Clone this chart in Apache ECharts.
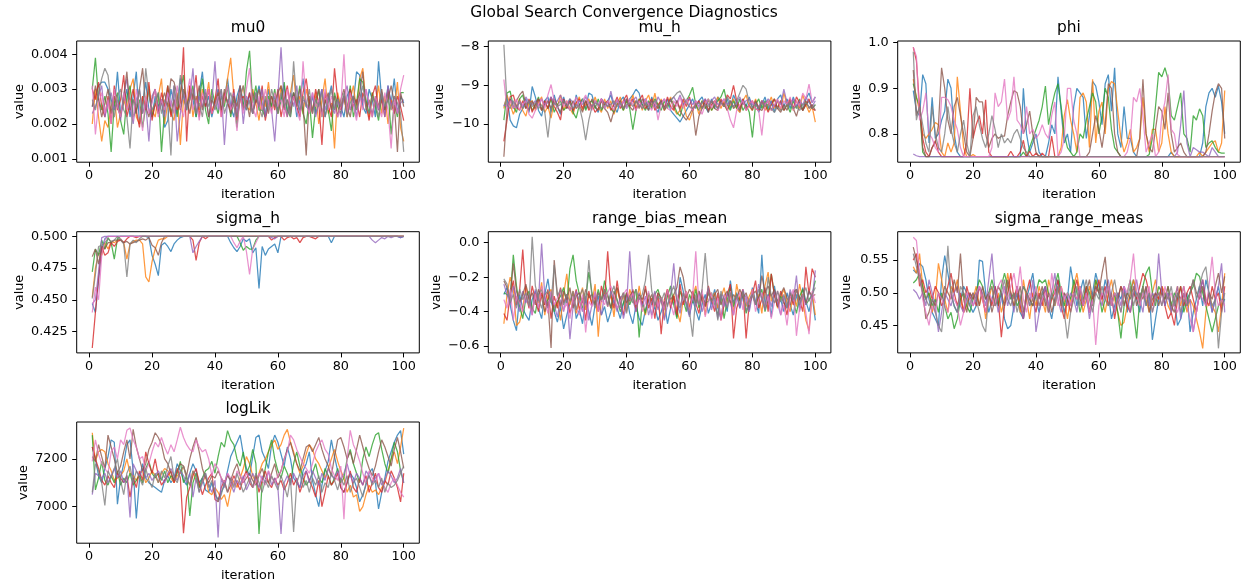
<!DOCTYPE html>
<html>
<head>
<meta charset="utf-8">
<title>Global Search Convergence Diagnostics</title>
<script src="https://cdn.jsdelivr.net/npm/echarts@6/dist/echarts.min.js"></script>
<style>
html, body { margin: 0; padding: 0; background: #fff; }
#chart { width: 1244px; height: 588px; }
</style>
</head>
<body>
<div id="chart"></div>
<script>
// iteration index of every chain (1..100)
var iterations = [];
for (var i = 1; i <= 100; i++) iterations.push(i);

var chainColors = ['#1f77b4', '#ff7f0e', '#2ca02c', '#d62728', '#9467bd', '#8c564b', '#e377c2', '#7f7f7f'];
var xTicks = [0, 20, 40, 60, 80, 100];

// ---------- mu0 ----------
var mu0_ticks = [0.001, 0.002, 0.003, 0.004];
var mu0_c1 = [.0025,.0028,.0031,.0032,.0032,.003,.0027,.0024,.0035,.0023,
.0026,.003,.0022,.0028,.0035,.002,.0026,.0032,.0024,.0022,
.0028,.0025,.0027,.0019,.0021,.003,.0026,.0023,.0033,.0028,
.0024,.003,.0027,.0022,.0029,.0035,.0025,.0028,.0022,.0026,
.003,.0024,.0027,.0033,.0025,.0022,.0028,.0031,.0026,.0024,
.0029,.0023,.0027,.0031,.0026,.0022,.003,.0025,.0028,.0024,
.0027,.0031,.0023,.0026,.0029,.0022,.0027,.0033,.0025,.0024,
.0028,.0023,.0026,.003,.0022,.0027,.0031,.0024,.0028,.0025,
.0022,.0028,.003,.0026,.0035,.0034,.0025,.0023,.003,.0027,
.0022,.0038,.0027,.0024,.0031,.0026,.0033,.0023,.0028,.0026];
var mu0_c2 = [.002,.003,.0022,.0015,.0021,.0019,.0025,.0028,.0019,.0023,
.0027,.0024,.003,.0033,.0022,.002,.0028,.0025,.0031,.0024,
.0022,.0028,.0033,.002,.0026,.0023,.0021,.0029,.0014,.0027,
.0025,.0031,.0022,.0028,.0024,.003,.0026,.0032,.0023,.0027,
.0029,.0024,.0026,.0033,.0039,.0028,.0022,.0027,.0031,.0025,
.0024,.003,.0026,.0021,.0028,.0025,.0032,.0024,.0027,.0023,
.0031,.0026,.0022,.0029,.0034,.0025,.0028,.0023,.003,.0026,
.0024,.0029,.002,.0027,.0033,.0023,.0026,.0013,.0029,.0025,
.0028,.0022,.0027,.0031,.0024,.0033,.0036,.0026,.0022,.0029,
.0025,.0031,.0023,.0028,.002,.0027,.0024,.0032,.0019,.0015];
var mu0_c3 = [.003,.0039,.0027,.0024,.0028,.0023,.0012,.0026,.0029,.0021,
.0017,.0028,.0031,.0022,.0024,.0027,.0019,.0025,.003,.0022,
.0026,.0029,.0012,.0024,.0031,.0023,.0027,.0022,.0029,.0034,
.0025,.0028,.0031,.0022,.0027,.0033,.0024,.002,.003,.0026,
.0023,.0028,.0025,.0031,.0022,.0027,.0019,.0029,.0024,.0035,
.0041,.0026,.0031,.0024,.0024,.0022,.0028,.0025,.003,.0023,
.0027,.0032,.0024,.0022,.0029,.0026,.0031,.0023,.002,.0027,
.0016,.0025,.003,.0022,.0027,.0024,.0018,.0029,.0025,.0023,
.0028,.0024,.0031,.0022,.0026,.0033,.0032,.0027,.0023,.0029,
.0025,.0021,.0028,.0024,.003,.0017,.0026,.0022,.0029,.0029];
var mu0_c4 = [.003,.0027,.0032,.0025,.0022,.0028,.002,.0031,.0024,.0027,
.0034,.0022,.0026,.003,.0024,.0019,.0028,.0024,.0032,.0021,
.0026,.0023,.0029,.0025,.0031,.0022,.0027,.0024,.0026,.0042,
.0015,.0031,.0027,.0034,.0022,.0028,.0025,.003,.0023,.0027,
.0033,.0022,.0029,.0026,.0024,.003,.0021,.0027,.0028,.0025,
.0029,.0023,.0027,.0025,.0031,.0021,.0026,.0028,.0024,.003,
.0022,.0027,.0031,.0024,.0028,.0025,.0022,.0029,.0033,.0026,
.0023,.003,.0026,.0014,.0029,.0025,.0022,.0036,.0027,.0024,
.0028,.0023,.003,.0025,.0027,.0022,.0029,.0026,.0021,.0028,
.0031,.0024,.0027,.0022,.003,.0026,.0023,.0028,.0025,.0021];
var mu0_c5 = [.0023,.0025,.0028,.0031,.0022,.0026,.0029,.0024,.0027,.0021,
.0028,.0033,.0025,.002,.0027,.003,.0023,.0026,.0015,.0028,
.003,.0024,.0027,.0022,.0029,.0025,.0031,.0015,.0023,.0029,
.0025,.0027,.0036,.0023,.0028,.0025,.003,.0022,.0026,.0038,
.0024,.003,.0014,.0027,.0025,.0029,.0023,.0031,.002,.0028,
.0026,.0023,.0029,.0025,.003,.0022,.0027,.0024,.0015,.0028,
.0042,.0026,.0022,.0029,.0025,.0031,.0023,.0027,.0026,.0024,
.0029,.0022,.0026,.003,.0024,.0028,.0025,.0023,.0027,.0022,
.0028,.0031,.0024,.0027,.0022,.0029,.0026,.003,.0025,.0023,
.0027,.0024,.0029,.0022,.0031,.0025,.0028,.0023,.0026,.0027];
var mu0_c6 = [.0025,.0031,.0027,.0022,.0026,.003,.0023,.0028,.0025,.0022,
.0028,.0035,.0024,.0027,.0023,.003,.0036,.0025,.0022,.0027,
.003,.0023,.0026,.0029,.0025,.0033,.0032,.0028,.0024,.003,
.0027,.0023,.0029,.0026,.0031,.0024,.0028,.0022,.0027,.0025,
.0029,.0024,.003,.0026,.0023,.0028,.0025,.0031,.0024,.0027,
.0022,.0029,.0026,.003,.0024,.0027,.0023,.0028,.0025,.0029,
.0031,.0024,.0027,.0023,.0029,.0025,.003,.0026,.0011,.0028,
.0024,.0027,.003,.0023,.0026,.0029,.0024,.0028,.0022,.0027,
.003,.0025,.0022,.0028,.0026,.0029,.0035,.0024,.0027,.0022,
.0028,.0025,.003,.0024,.0027,.0031,.0026,.0012,.0029,.0025];
var mu0_c7 = [.0031,.0017,.0026,.0029,.0023,.0027,.002,.003,.0025,.0022,
.0029,.0024,.0027,.0021,.003,.0025,.0018,.0028,.0023,.0026,
.003,.0022,.0027,.0024,.0029,.0026,.0023,.0031,.0025,.0022,
.0028,.0033,.0024,.0027,.0021,.0029,.0026,.003,.0023,.0025,
.0028,.0022,.0027,.0031,.0024,.0026,.0018,.0029,.0023,.003,
.0036,.0025,.0022,.0028,.0024,.003,.0026,.0023,.0029,.0025,
.0027,.0022,.003,.0025,.0028,.0024,.0021,.0038,.0026,.0023,
.0029,.0025,.0027,.0022,.003,.0024,.0028,.0025,.0022,.0025,
.004,.0023,.0029,.0025,.0021,.0028,.0024,.003,.0026,.0022,
.0028,.0025,.0022,.0029,.0024,.0013,.0027,.0023,.003,.0034];
var mu0_c8 = [.0027,.0024,.0029,.0033,.0036,.0034,.0026,.0022,.0028,.003,
.0024,.0022,.0013,.0027,.0025,.003,.0023,.0036,.0028,.0024,
.0026,.0029,.0023,.0027,.0025,.0011,.0031,.0025,.0034,.0028,
.0024,.0027,.003,.0023,.0026,.0022,.0029,.0025,.0028,.0024,
.0027,.003,.0023,.0026,.0029,.0025,.0022,.0028,.0031,.0024,
.0027,.0023,.0029,.0025,.0022,.0028,.0024,.003,.0026,.0023,
.0029,.0025,.0027,.0022,.0038,.0026,.0024,.0028,.0025,.003,
.0023,.0027,.0025,.0029,.0022,.0026,.003,.0024,.0027,.0025,
.0029,.0022,.0026,.0028,.0024,.0027,.0031,.0025,.0023,.0028,
.0026,.0022,.0029,.0025,.0027,.0024,.0028,.0026,.0023,.0012];

// ---------- mu_h ----------
var muh_ticks = [-10, -9, -8];
var muh_c1 = [-9.55,-9.3,-9.9,-10.05,-10.1,-9.75,-9.6,-9.35,-9.7,-9.03,
-9.3,-9.65,-9.8,-9.4,-9.3,-9.7,-9.25,-9.55,-9.75,-9.3,
-9.6,-9.4,-9.7,-9.25,-9.55,-9.35,-9.6,-9.2,-9.25,-9.55,
-9.7,-9.35,-9.6,-9.4,-9.25,-9.55,-9.7,-9.4,-9.3,-9.6,
-9.35,-9.25,-9.1,-9.2,-9.55,-9.35,-9.65,-9.3,-9.55,-9.7,
-9.4,-9.6,-9.35,-9.65,-9.75,-9.85,-9.95,-9.8,-9.65,-9.5,
-9.35,-9.6,-9.4,-9.3,-9.55,-9.7,-9.35,-9.6,-9.3,-9.45,
-9.55,-9.35,-9.6,-9.25,-9.45,-9.7,-9.35,-9.55,-9.3,-9.6,
-9.4,-9.7,-9.5,-9.3,-9.6,-9.4,-9.7,-9.35,-9.25,-9.55,
-9.35,-9.6,-9.3,-9.55,-9.4,-9.65,-9.35,-9.2,-9.45,-9.3];
var muh_c2 = [-9.6,-9.25,-9.5,-9.75,-9.55,-9.35,-9.65,-9.8,-9.45,-9.4,
-9.65,-9.45,-9.3,-9.7,-9.55,-9.85,-9.4,-9.55,-9.25,-9.65,
-9.4,-9.6,-9.75,-9.45,-9.3,-9.65,-9.5,-9.35,-9.6,-9.3,
-9.55,-9.7,-9.35,-9.6,-9.4,-9.75,-9.5,-9.3,-9.65,-9.4,
-9.55,-9.25,-9.6,-9.35,-9.65,-9.4,-9.25,-9.55,-9.2,-9.6,
-9.35,-9.65,-9.5,-9.3,-9.6,-9.75,-9.65,-9.4,-9.8,-9.9,
-9.65,-9.45,-9.75,-9.4,-9.6,-9.35,-9.65,-9.5,-9.3,-9.6,
-9.4,-9.65,-9.5,-9.35,-9.6,-9.7,-9.4,-9.25,-9.55,-9.65,
-9.35,-9.6,-9.4,-9.65,-9.5,-9.3,-9.6,-9.4,-9.65,-9.2,
-9.5,-9.35,-9.65,-9.4,-9.6,-9.25,-9.5,-9.7,-9.55,-9.95];
var muh_c3 = [-9.9,-9.2,-9.15,-9.55,-9.7,-9.35,-9.25,-9.6,-9.4,-9.65,
-9.5,-9.3,-9.65,-9.4,-9.6,-9.35,-9.7,-9.5,-9.4,-9.65,
-9.55,-9.35,-9.7,-9.85,-9.5,-9.35,-9.65,-9.45,-9.4,-9.6,
-9.35,-9.65,-9.5,-9.4,-9.6,-9.7,-9.35,-9.5,-9.65,-9.4,
-9.6,-10.15,-9.65,-9.35,-9.5,-9.65,-9.4,-9.6,-9.35,-9.5,
-9.65,-9.4,-9.6,-9.35,-9.5,-9.7,-9.8,-9.5,-9.4,-9.25,
-9.05,-9.5,-9.65,-9.4,-9.6,-9.35,-9.65,-9.5,-9.4,-9.3,
-9.1,-9.5,-9.65,-9.4,-9.6,-9.35,-9.65,-9.5,-9.7,-10.35,
-9.5,-9.35,-9.6,-9.4,-9.65,-9.5,-9.35,-9.6,-9.4,-9.65,
-9.5,-9.7,-9.4,-9.6,-9.35,-9.65,-9.5,-9.4,-9.6,-9.5];
var muh_c4 = [-10.45,-9.9,-9.3,-9.25,-9.55,-9.65,-9.4,-9.6,-9.35,-9.7,
-9.5,-9.35,-9.65,-9.4,-9.6,-9.3,-9.55,-9.7,-9.9,-9.35,
-9.6,-9.4,-9.65,-9.45,-9.35,-9.6,-9.4,-9.65,-9.5,-9.7,
-9.6,-9.35,-9.5,-9.4,-9.65,-9.5,-9.3,-9.6,-9.4,-9.25,
-9.55,-9.35,-9.65,-9.4,-9.25,-9.6,-9.5,-9.35,-9.65,-9.5,
-9.4,-9.6,-9.3,-9.55,-9.65,-9.4,-9.6,-9.35,-9.55,-9.3,
-9.65,-9.5,-9.4,-9.6,-9.35,-9.65,-9.5,-9.4,-9.6,-9.35,
-9.55,-9.25,-9.35,-9.0,-9.4,-9.6,-9.35,-9.65,-9.5,-9.4,
-9.6,-9.65,-9.4,-9.5,-9.7,-9.5,-9.35,-9.6,-9.4,-9.65,
-9.5,-9.35,-9.6,-9.3,-9.45,-9.65,-9.5,-9.35,-9.6,-9.65];
var muh_c5 = [-9.5,-9.55,-9.35,-9.45,-9.6,-9.4,-9.55,-9.3,-9.45,-9.5,
-9.4,-9.55,-9.35,-9.5,-9.45,-9.3,-9.5,-9.4,-9.25,-9.45,
-9.5,-9.35,-9.45,-9.55,-9.4,-9.5,-9.3,-9.45,-9.55,-9.4,
-9.5,-9.35,-9.45,-9.55,-9.15,-9.5,-9.4,-9.55,-9.45,-9.35,
-9.5,-9.4,-9.3,-9.55,-9.45,-9.35,-9.5,-9.4,-9.55,-9.3,
-9.45,-9.35,-9.5,-9.4,-9.3,-9.45,-9.25,-9.5,-9.4,-9.35,
-9.5,-9.4,-9.55,-9.45,-9.35,-9.5,-9.4,-9.3,-9.5,-9.45,
-9.35,-9.5,-9.4,-9.55,-9.45,-9.3,-9.5,-9.4,-9.35,-9.5,
-9.45,-9.55,-9.4,-9.5,-9.35,-9.45,-9.55,-9.4,-9.5,-9.1,
-9.45,-9.5,-9.35,-9.55,-9.4,-9.5,-9.3,-9.45,-9.55,-9.4];
var muh_c6 = [-10.85,-9.65,-9.35,-9.6,-9.4,-9.25,-9.15,-9.5,-9.65,-9.4,
-9.6,-9.35,-9.65,-9.5,-9.4,-9.6,-9.35,-9.55,-9.7,-9.4,
-9.5,-9.65,-9.4,-9.6,-9.5,-9.7,-9.4,-9.6,-9.35,-9.55,
-9.65,-9.4,-9.6,-9.7,-9.95,-9.65,-9.5,-9.4,-9.6,-9.35,
-9.55,-9.65,-9.4,-9.6,-9.35,-9.5,-9.65,-9.4,-9.5,-9.6,
-9.4,-9.65,-9.5,-9.35,-9.6,-9.4,-9.65,-9.8,-9.9,-9.75,
-9.6,-10.3,-9.8,-9.6,-9.45,-9.7,-9.4,-9.6,-9.65,-9.4,
-9.5,-9.65,-9.4,-9.6,-9.5,-9.65,-9.4,-9.6,-9.5,-9.65,
-9.4,-9.6,-9.65,-9.5,-9.4,-9.65,-9.5,-9.6,-9.7,-9.5,
-9.65,-9.4,-9.6,-9.8,-9.5,-9.65,-9.4,-9.6,-9.5,-9.65];
var muh_c7 = [-8.85,-9.65,-9.4,-9.6,-9.35,-9.65,-9.5,-9.4,-9.75,-9.85,
-9.65,-9.5,-9.35,-9.6,-9.25,-8.98,-9.4,-9.6,-9.35,-9.55,
-9.4,-9.65,-9.5,-9.3,-9.6,-9.4,-9.25,-9.5,-9.65,-9.4,
-9.55,-9.35,-9.6,-9.4,-9.5,-9.65,-9.35,-9.55,-9.4,-9.6,
-9.35,-9.5,-9.65,-9.4,-9.6,-9.35,-9.5,-9.65,-9.4,-9.9,
-9.5,-9.35,-9.6,-9.65,-9.4,-9.55,-9.3,-9.6,-9.35,-9.55,
-9.65,-9.4,-9.6,-9.75,-9.5,-9.35,-9.6,-9.4,-9.65,-9.5,
-9.35,-9.6,-9.9,-10.1,-9.65,-9.5,-9.4,-9.65,-9.5,-9.4,
-9.6,-9.65,-10.3,-9.5,-9.4,-9.65,-9.5,-9.35,-9.6,-9.4,
-9.5,-9.3,-9.65,-9.4,-9.55,-9.2,-9.35,-8.97,-9.45,-9.3];
var muh_c8 = [-7.95,-9.5,-9.6,-9.4,-9.55,-9.45,-9.6,-9.5,-9.4,-9.55,
-9.45,-9.6,-9.5,-9.7,-10.35,-9.6,-9.45,-9.55,-9.5,-9.4,
-9.55,-9.45,-9.6,-9.5,-9.55,-9.9,-10.42,-9.9,-9.55,-9.45,
-9.5,-9.6,-9.45,-9.55,-9.5,-9.4,-9.55,-9.45,-9.6,-9.5,
-9.45,-9.55,-9.4,-9.5,-9.6,-9.45,-9.55,-9.5,-9.4,-9.55,
-9.45,-9.6,-9.5,-9.4,-9.3,-9.2,-9.15,-9.3,-9.45,-9.55,
-9.6,-9.5,-9.45,-9.6,-9.5,-9.55,-9.4,-9.5,-9.6,-9.45,
-9.55,-9.3,-9.45,-9.55,-9.4,-9.2,-9.0,-9.1,-9.45,-9.55,
-9.5,-9.6,-9.45,-9.55,-9.5,-9.6,-9.7,-9.55,-9.65,-9.6,
-9.5,-9.45,-9.6,-9.55,-9.65,-9.5,-9.45,-9.55,-9.6,-9.5];

// ---------- phi ----------
var phi_ticks = [0.8, 0.9, 1.0];
var phi_c1 = [.895,.85,.84,.93,.91,.78,.88,.79,.8,.83,
.85,.92,.9,.8,.76,.75,.75,.75,.75,.75,
.75,.75,.75,.75,.75,.75,.75,.75,.75,.75,
.75,.75,.75,.75,.75,.9,.8,.76,.78,.8,
.76,.75,.75,.78,.82,.8,.925,.85,.78,.8,
.76,.86,.9,.89,.88,.79,.84,.915,.905,.87,
.82,.91,.93,.85,.945,.8,.77,.86,.79,.79,
.76,.75,.75,.75,.75,.75,.75,.75,.75,.75,
.75,.75,.76,.75,.75,.75,.75,.75,.75,.75,
.75,.75,.78,.86,.89,.9,.88,.905,.87,.8];
var phi_c2 = [.92,.88,.85,.8,.79,.8,.81,.825,.82,.76,
.75,.78,.76,.78,.925,.85,.77,.75,.75,.755,
.75,.75,.75,.75,.75,.75,.75,.75,.75,.75,
.75,.75,.75,.75,.75,.75,.75,.75,.75,.75,
.75,.75,.75,.75,.75,.75,.75,.77,.84,.875,
.83,.8,.76,.88,.89,.87,.77,.92,.78,.85,
.87,.8,.9,.915,.91,.85,.79,.76,.78,.81,
.76,.77,.79,.88,.8,.76,.81,.81,.76,.78,
.86,.8,.76,.75,.75,.75,.75,.75,.75,.75,
.75,.76,.75,.76,.77,.78,.785,.76,.78,.895];
var phi_c3 = [.91,.88,.86,.76,.75,.75,.75,.75,.75,.75,
.75,.75,.75,.75,.75,.75,.75,.75,.75,.75,
.75,.75,.75,.75,.75,.75,.75,.75,.75,.75,
.75,.75,.75,.75,.75,.76,.75,.77,.79,.81,
.83,.86,.905,.82,.86,.89,.91,.86,.8,.77,
.76,.75,.76,.8,.79,.83,.86,.89,.87,.8,
.84,.9,.88,.81,.77,.76,.75,.75,.75,.75,
.75,.75,.75,.75,.75,.755,.79,.86,.935,.925,
.945,.92,.84,.83,.86,.89,.8,.79,.76,.84,
.83,.855,.84,.77,.78,.785,.77,.76,.758,.758];
var phi_c4 = [.99,.96,.86,.79,.76,.75,.77,.785,.76,.75,
.75,.75,.75,.75,.75,.75,.75,.78,.9,.79,
.82,.84,.8,.875,.76,.75,.75,.75,.75,.75,
.75,.762,.75,.75,.76,.786,.75,.762,.75,.758,
.75,.758,.75,.75,.795,.75,.75,.75,.75,.75,
.75,.75,.75,.75,.75,.75,.75,.75,.75,.75,
.75,.75,.75,.75,.75,.75,.75,.75,.75,.75,
.75,.75,.75,.75,.75,.75,.75,.75,.75,.75,
.75,.75,.75,.75,.75,.75,.75,.75,.75,.75,
.75,.75,.75,.75,.75,.75,.75,.75,.75,.75];
var phi_c5 = [.756,.752,.75,.75,.75,.75,.75,.75,.75,.75,
.75,.75,.75,.75,.75,.75,.75,.75,.75,.75,
.75,.75,.75,.75,.75,.75,.75,.75,.75,.75,
.75,.75,.75,.75,.75,.75,.75,.75,.75,.75,
.75,.75,.75,.75,.75,.75,.75,.75,.75,.75,
.75,.75,.75,.75,.75,.75,.75,.75,.75,.75,
.75,.75,.75,.75,.75,.75,.75,.75,.75,.75,
.75,.75,.75,.75,.75,.75,.75,.75,.75,.75,
.75,.75,.75,.75,.76,.82,.895,.78,.75,.77,
.765,.76,.76,.755,.75,.77,.76,.75,.75,.75];
var phi_c6 = [.94,.84,.86,.77,.75,.75,.77,.78,.82,.945,
.9,.83,.8,.86,.88,.84,.8,.76,.75,.79,
.88,.87,.87,.8,.77,.79,.8,.79,.795,.795,
.84,.87,.895,.89,.86,.8,.82,.85,.8,.76,
.75,.75,.75,.75,.75,.75,.75,.75,.75,.75,
.75,.75,.75,.75,.75,.75,.76,.8,.84,.81,
.77,.82,.91,.9,.8,.76,.75,.75,.75,.75,
.75,.75,.79,.92,.8,.77,.76,.81,.86,.85,
.81,.89,.8,.76,.77,.78,.76,.75,.75,.75,
.75,.75,.75,.76,.8,.85,.89,.91,.9,.79];
var phi_c7 = [.99,.97,.83,.85,.89,.8,.79,.77,.76,.88,
.88,.875,.86,.83,.81,.77,.75,.75,.75,.75,
.75,.75,.75,.75,.75,.77,.89,.86,.87,.92,
.83,.85,.925,.83,.82,.8,.86,.8,.81,.79,
.8,.82,.8,.79,.84,.87,.75,.76,.79,.9,
.9,.83,.8,.75,.75,.75,.75,.75,.75,.75,
.75,.75,.75,.75,.75,.75,.75,.75,.76,.79,
.88,.87,.9,.84,.76,.78,.8,.75,.76,.84,
.87,.93,.81,.8,.755,.75,.75,.75,.75,.75,
.75,.75,.75,.75,.75,.75,.75,.75,.75,.75];
var phi_c8 = [.98,.83,.86,.82,.78,.76,.86,.8,.77,.76,
.8,.86,.81,.78,.76,.8,.83,.78,.75,.84,
.86,.82,.79,.77,.8,.84,.81,.77,.8,.78,
.79,.78,.8,.81,.79,.77,.76,.75,.75,.75,
.75,.75,.75,.75,.75,.75,.75,.75,.75,.75,
.75,.75,.75,.75,.75,.75,.75,.75,.75,.75,
.75,.75,.75,.75,.75,.75,.75,.75,.75,.75,
.75,.75,.75,.75,.75,.75,.75,.75,.75,.75,
.75,.75,.75,.75,.75,.75,.75,.75,.75,.75,
.75,.75,.75,.75,.75,.75,.75,.75,.75,.75];

// ---------- sigma_h ----------
var sigh_ticks = [0.425, 0.45, 0.475, 0.5];
var sigh_c1 = [.447,.44,.465,.49,.498,.5,.5,.5,.5,.5,
.5,.5,.5,.5,.5,.5,.5,.5,.499,.485,
.478,.469,.493,.495,.492,.488,.494,.497,.499,.5,
.5,.5,.5,.5,.5,.5,.5,.5,.5,.5,
.5,.5,.5,.5,.495,.491,.488,.492,.498,.496,
.498,.487,.491,.459,.492,.485,.49,.492,.494,.487,
.5,.5,.5,.5,.5,.5,.5,.5,.5,.5,
.5,.5,.5,.5,.5,.5,.495,.5,.5,.5,
.5,.5,.5,.5,.5,.5,.5,.5,.5,.5,
.5,.5,.5,.5,.5,.5,.5,.5,.499,.5];
var sigh_c2 = [.452,.475,.487,.485,.495,.49,.496,.495,.497,.497,
.495,.482,.494,.496,.497,.497,.494,.468,.464,.48,
.49,.497,.498,.498,.5,.5,.5,.5,.5,.5,
.5,.5,.5,.5,.5,.5,.5,.5,.5,.5,
.5,.5,.5,.5,.5,.5,.5,.5,.5,.5,
.5,.5,.5,.5,.5,.5,.5,.5,.5,.5,
.5,.5,.5,.5,.5,.5,.5,.5,.5,.5,
.5,.5,.5,.5,.5,.5,.5,.5,.5,.5,
.5,.5,.5,.5,.5,.5,.5,.5,.5,.5,
.5,.5,.5,.5,.5,.5,.5,.5,.5,.5];
var sigh_c3 = [.472,.49,.485,.497,.49,.499,.495,.482,.498,.5,
.5,.5,.5,.5,.5,.5,.5,.5,.5,.5,
.5,.5,.5,.5,.5,.5,.5,.5,.5,.5,
.5,.5,.5,.5,.5,.5,.5,.5,.5,.5,
.5,.5,.5,.5,.5,.5,.5,.495,.489,.492,
.49,.49,.497,.5,.5,.5,.5,.5,.5,.5,
.5,.5,.5,.5,.5,.5,.5,.5,.5,.5,
.5,.5,.5,.5,.5,.5,.5,.5,.5,.5,
.5,.5,.5,.5,.5,.5,.5,.5,.5,.5,
.5,.5,.5,.5,.5,.5,.5,.5,.5,.5];
var sigh_c4 = [.412,.44,.468,.492,.485,.487,.495,.492,.496,.497,
.495,.498,.5,.5,.499,.5,.5,.5,.5,.5,
.5,.5,.5,.5,.5,.5,.5,.5,.5,.5,
.5,.5,.497,.481,.495,.5,.498,.5,.5,.5,
.5,.5,.5,.5,.5,.5,.5,.5,.5,.5,
.5,.5,.5,.5,.5,.5,.5,.497,.499,.5,
.5,.497,.499,.5,.498,.499,.495,.499,.5,.5,
.499,.498,.5,.5,.5,.5,.5,.5,.5,.5,
.5,.5,.5,.5,.5,.5,.5,.5,.5,.5,
.5,.5,.5,.5,.5,.5,.5,.5,.5,.5];
var sigh_c5 = [.447,.45,.472,.499,.5,.5,.5,.5,.5,.5,
.5,.5,.5,.5,.5,.5,.5,.5,.5,.5,
.5,.5,.5,.5,.5,.5,.5,.5,.5,.5,
.5,.5,.487,.492,.496,.5,.5,.5,.5,.5,
.5,.5,.5,.5,.5,.5,.5,.5,.5,.5,
.5,.5,.5,.5,.5,.5,.5,.499,.498,.5,
.5,.5,.5,.5,.5,.5,.5,.5,.5,.5,
.5,.5,.5,.5,.5,.5,.5,.5,.5,.5,
.5,.5,.5,.5,.5,.5,.5,.5,.5,.497,
.495,.497,.499,.498,.5,.499,.5,.5,.499,.5];
var sigh_c6 = [.484,.49,.478,.492,.49,.495,.495,.497,.497,.498,
.495,.496,.494,.495,.496,.497,.498,.497,.499,.493,
.491,.485,.495,.5,.5,.5,.5,.5,.5,.5,
.5,.5,.5,.5,.5,.5,.5,.5,.5,.5,
.5,.5,.5,.5,.5,.5,.5,.5,.5,.5,
.5,.5,.5,.5,.5,.5,.5,.5,.5,.5,
.5,.5,.5,.5,.5,.5,.5,.5,.5,.5,
.5,.5,.5,.5,.5,.5,.5,.5,.5,.5,
.5,.5,.5,.5,.5,.5,.5,.5,.5,.5,
.5,.5,.5,.5,.5,.5,.5,.5,.5,.5];
var sigh_c7 = [.44,.46,.45,.485,.497,.5,.5,.5,.5,.5,
.5,.5,.5,.5,.5,.5,.5,.5,.5,.5,
.5,.5,.5,.5,.5,.5,.5,.5,.5,.5,
.5,.5,.5,.5,.5,.5,.5,.5,.5,.5,
.5,.5,.5,.5,.5,.495,.491,.496,.5,.488,
.47,.49,.495,.5,.5,.5,.5,.5,.5,.5,
.5,.5,.5,.5,.5,.5,.5,.5,.5,.5,
.5,.5,.5,.5,.5,.5,.5,.5,.5,.5,
.5,.5,.5,.5,.5,.5,.5,.5,.5,.5,
.5,.5,.5,.5,.5,.5,.5,.5,.5,.5];
var sigh_c8 = [.451,.47,.492,.493,.495,.498,.496,.497,.5,.497,
.494,.468,.494,.497,.495,.498,.5,.5,.5,.5,
.5,.5,.5,.5,.5,.5,.5,.5,.5,.5,
.5,.5,.5,.5,.5,.5,.5,.5,.5,.5,
.5,.5,.5,.5,.5,.5,.5,.5,.5,.5,
.5,.5,.5,.5,.5,.5,.5,.5,.5,.5,
.5,.5,.5,.5,.5,.5,.5,.5,.5,.5,
.5,.5,.5,.5,.5,.5,.5,.5,.5,.5,
.5,.5,.5,.5,.5,.5,.5,.5,.5,.5,
.5,.5,.5,.5,.5,.5,.5,.5,.5,.5];

// ---------- range_bias_mean ----------
var rbm_ticks = [-0.6, -0.4, -0.2, 0.0];
var rbm_c1 = [-.3,-.26,-.36,-.45,-.51,-.3,-.38,-.42,-.45,-.33,
-.28,-.38,-.44,-.3,-.21,-.34,-.4,-.46,-.37,-.5,
-.42,-.35,-.29,-.44,-.39,-.47,-.33,-.4,-.48,-.36,
-.31,-.42,-.37,-.46,-.4,-.33,-.38,-.44,-.35,-.3,
-.41,-.47,-.36,-.44,-.48,-.39,-.33,-.42,-.37,-.45,
-.4,-.34,-.47,-.38,-.31,-.43,-.2,-.28,-.36,-.42,
-.33,-.39,-.45,-.36,-.3,-.41,-.35,-.27,-.38,-.44,
-.32,-.4,-.22,-.35,-.29,-.38,-.31,-.31,-.39,-.26,
-.34,-.41,-.07,-.36,-.3,-.43,-.25,-.37,-.33,-.4,
-.29,-.36,-.42,-.3,-.38,-.26,-.34,-.4,-.31,-.45];
var rbm_c2 = [-.47,-.3,-.2,-.27,-.48,-.46,-.38,-.25,-.33,-.4,
-.29,-.35,-.23,-.42,-.31,-.27,-.38,-.34,-.45,-.3,
-.18,-.36,-.28,-.41,-.33,-.26,-.39,-.3,-.35,-.24,
-.545,-.32,-.28,-.37,-.3,-.43,-.26,-.35,-.31,-.4,
-.27,-.33,-.38,-.25,-.36,-.42,-.3,-.34,-.29,-.38,
-.32,-.44,-.27,-.35,-.3,-.39,-.46,-.33,-.28,-.37,
-.31,-.25,-.36,-.3,-.42,-.27,-.34,-.29,-.38,-.32,
-.26,-.35,-.3,-.4,-.24,-.33,-.29,-.37,-.31,-.27,
-.36,-.3,-.41,-.25,-.17,-.34,-.29,-.38,-.32,-.27,
-.35,-.4,-.3,-.37,-.24,-.33,-.45,-.51,-.29,-.42];
var rbm_c3 = [-.29,-.3,-.33,-.07,-.25,-.37,-.44,-.32,-.28,-.38,
-.41,-.3,-.27,-.36,-.33,-.29,-.4,-.34,-.31,-.26,
-.35,-.15,-.07,-.22,-.3,-.38,-.33,-.17,-.29,-.36,
-.27,-.34,-.22,-.3,-.38,-.28,-.33,-.4,-.35,-.29,
-.36,-.31,-.27,-.55,-.34,-.41,-.29,-.36,-.3,-.27,
-.34,-.39,-.31,-.25,-.36,-.44,-.28,-.33,-.4,-.3,
-.35,-.27,-.38,-.31,-.35,-.34,-.29,-.36,-.42,-.3,
-.44,-.33,-.26,-.37,-.3,-.34,-.28,-.41,-.35,-.29,
-.36,-.32,-.27,-.4,-.33,-.18,-.3,-.37,-.31,-.35,
-.38,-.29,-.34,-.41,-.31,-.27,-.36,-.33,-.3,-.22];
var rbm_c4 = [-.41,-.45,-.3,-.22,-.36,-.28,-.04,-.3,-.38,-.25,
-.33,-.4,-.29,-.36,-.27,-.44,-.31,-.38,-.26,-.35,
-.3,-.41,-.34,-.27,-.39,-.32,-.45,-.28,-.36,-.31,
-.4,-.25,-.33,-.05,-.3,-.38,-.22,-.35,-.42,-.29,
-.34,-.27,-.4,-.31,-.36,-.25,-.38,-.32,-.44,-.29,
-.53,-.33,-.27,-.38,-.31,-.42,-.24,-.36,-.3,-.39,
-.28,-.35,-.41,-.3,-.37,-.25,-.33,-.4,-.29,-.45,
-.36,-.3,-.24,-.555,-.38,-.32,-.27,-.555,-.35,-.3,
-.22,-.38,-.33,-.26,-.4,-.18,-.31,-.37,-.28,-.34,
-.42,-.3,-.36,-.27,-.33,-.4,-.14,-.3,-.15,-.2];
var rbm_c5 = [-.24,-.3,-.36,-.25,-.32,-.4,-.28,-.35,-.3,-.42,
-.27,-.34,-.005,-.31,-.38,-.29,-.36,-.43,-.33,-.4,
-.3,-.56,-.37,-.28,-.34,-.4,-.31,-.45,-.36,-.29,
-.35,-.42,-.3,-.37,-.28,-.33,-.4,-.31,-.44,-.36,
-.05,-.33,-.4,-.29,-.37,-.31,-.42,-.35,-.28,-.39,
-.32,-.45,-.36,-.3,-.12,-.34,-.41,-.29,-.36,-.43,
-.31,-.37,-.28,-.4,-.34,-.26,-.39,-.32,-.44,-.3,
-.37,-.29,-.35,-.42,-.31,-.38,-.27,-.34,-.4,-.3,
-.36,-.24,-.33,-.39,-.3,-.37,-.28,-.35,-.42,-.31,
-.38,-.27,-.34,-.19,-.4,-.3,-.36,-.28,-.33,-.16];
var rbm_c6 = [-.22,-.26,-.31,-.12,-.28,-.35,-.3,-.24,-.33,-.29,
-.36,-.27,-.32,-.4,-.34,-.61,-.1,-.3,-.37,-.28,
-.33,-.26,-.38,-.31,-.29,-.35,-.27,-.32,-.3,-.36,
-.29,-.34,-.27,-.31,-.38,-.3,-.26,-.33,-.29,-.35,
-.31,-.28,-.36,-.3,-.33,-.27,-.34,-.3,-.37,-.29,
-.32,-.38,-.28,-.33,-.3,-.26,-.14,-.2,-.32,-.27,
-.3,-.35,-.28,-.33,-.37,-.29,-.34,-.3,-.27,-.36,
-.31,-.28,-.35,-.3,-.33,-.27,-.32,-.29,-.36,-.3,
-.28,-.33,-.19,-.29,-.25,-.31,-.27,-.34,-.3,-.26,
-.32,-.36,-.29,-.27,-.33,-.3,-.35,-.28,-.31,-.3];
var rbm_c7 = [-.33,-.38,-.27,-.45,-.31,-.35,-.4,-.29,-.36,-.42,
-.3,-.38,-.25,-.34,-.41,-.28,-.36,-.32,-.27,-.39,
-.35,-.44,-.31,-.38,-.42,-.3,-.52,-.34,-.37,-.28,
-.4,-.33,-.36,-.29,-.25,-.31,-.38,-.34,-.3,-.27,
-.33,-.29,-.36,-.31,-.4,-.35,-.28,-.44,-.3,-.37,
-.32,-.39,-.27,-.35,-.42,-.3,-.36,-.33,-.28,-.4,
-.31,-.05,-.36,-.27,-.43,-.34,-.29,-.38,-.32,-.45,
-.3,-.37,-.28,-.42,-.33,-.29,-.39,-.31,-.36,-.27,
-.4,-.33,-.29,-.37,-.31,-.44,-.34,-.28,-.42,-.36,
-.48,-.32,-.27,-.54,-.38,-.3,-.41,-.53,-.28,-.35];
var rbm_c8 = [-.21,-.24,-.35,-.3,-.38,-.27,-.33,-.29,-.37,.035,
-.25,-.32,-.38,-.3,-.28,-.35,-.13,-.31,-.27,-.36,
-.3,-.34,-.28,-.39,-.31,-.27,-.35,-.1,-.32,-.38,
-.29,-.33,-.27,-.36,-.3,-.25,-.34,-.38,-.29,-.41,
-.31,-.35,-.27,-.33,-.3,-.22,-.07,-.28,-.36,-.31,
-.34,-.29,-.37,-.3,-.25,-.33,-.38,-.29,-.35,-.4,
-.545,-.3,-.36,-.27,-.06,-.29,-.34,-.31,-.45,-.28,
-.33,-.38,-.29,-.35,-.3,-.36,-.28,-.4,-.33,-.3,
-.36,-.27,-.32,-.38,-.2,-.31,-.35,-.28,-.34,-.3,
-.37,-.29,-.33,-.27,-.36,-.31,-.26,-.34,-.3,-.26];

// ---------- sigma_range_meas ----------
var srm_ticks = [0.45, 0.5, 0.55];
var srm_c1 = [.535,.53,.545,.54,.52,.49,.47,.46,.45,.52,
.557,.53,.5,.48,.47,.49,.51,.5,.48,.47,
.48,.55,.548,.5,.47,.49,.51,.48,.5,.46,
.445,.45,.48,.5,.47,.46,.49,.51,.53,.49,
.47,.5,.51,.48,.46,.49,.52,.5,.47,.49,
.54,.51,.48,.5,.52,.49,.47,.5,.53,.51,
.49,.52,.5,.46,.48,.5,.49,.51,.47,.5,
.52,.49,.47,.51,.48,.5,.428,.46,.49,.51,
.48,.5,.47,.49,.45,.46,.48,.5,.44,.47,
.49,.51,.48,.52,.5,.47,.49,.51,.48,.49];
var srm_c2 = [.54,.53,.56,.51,.49,.5,.47,.49,.545,.52,
.49,.47,.51,.5,.52,.49,.47,.48,.5,.49,
.51,.48,.5,.46,.49,.51,.48,.5,.47,.49,
.53,.5,.48,.51,.47,.52,.49,.46,.5,.48,
.51,.49,.47,.52,.5,.48,.5,.51,.49,.46,
.49,.51,.53,.5,.47,.49,.51,.48,.52,.5,
.49,.47,.5,.52,.49,.47,.45,.455,.48,.5,
.52,.5,.48,.51,.49,.47,.5,.52,.49,.51,
.5,.48,.47,.49,.51,.48,.5,.47,.49,.48,
.46,.44,.415,.47,.5,.48,.47,.44,.48,.53];
var srm_c3 = [.515,.52,.53,.51,.49,.5,.48,.49,.47,.5,
.48,.46,.47,.445,.46,.49,.5,.48,.47,.49,
.5,.52,.51,.49,.5,.52,.5,.48,.51,.53,
.51,.49,.5,.48,.49,.51,.5,.49,.48,.5,
.52,.515,.52,.5,.49,.51,.53,.5,.48,.5,
.49,.52,.5,.47,.49,.51,.5,.48,.52,.5,
.47,.49,.51,.48,.5,.47,.43,.48,.5,.52,
.47,.43,.49,.51,.53,.54,.5,.48,.51,.5,
.49,.51,.48,.5,.49,.51,.47,.49,.5,.51,
.53,.525,.5,.48,.46,.44,.46,.48,.49,.49];
var srm_c4 = [.55,.56,.51,.52,.5,.51,.49,.51,.5,.48,
.49,.51,.53,.5,.48,.5,.47,.51,.49,.5,
.48,.51,.49,.47,.5,.48,.51,.49,.432,.48,
.5,.53,.49,.51,.48,.46,.5,.52,.49,.47,
.5,.48,.51,.47,.49,.5,.52,.48,.46,.49,
.47,.5,.52,.49,.48,.51,.47,.49,.5,.52,
.49,.51,.48,.5,.46,.49,.51,.5,.48,.47,
.5,.49,.51,.53,.52,.5,.48,.5,.49,.51,
.48,.46,.47,.45,.49,.51,.48,.5,.51,.49,
.47,.5,.52,.49,.48,.51,.49,.5,.47,.51];
var srm_c5 = [.505,.5,.49,.5,.48,.52,.5,.48,.44,.47,
.5,.49,.48,.5,.51,.48,.47,.49,.5,.48,
.49,.51,.5,.48,.52,.56,.5,.47,.49,.51,
.48,.5,.47,.51,.49,.46,.5,.48,.52,.44,
.47,.49,.51,.48,.5,.53,.49,.47,.5,.48,
.5,.49,.47,.51,.48,.5,.46,.49,.51,.5,
.48,.5,.52,.49,.47,.5,.48,.51,.49,.47,
.5,.52,.49,.47,.51,.48,.5,.49,.56,.5,
.48,.5,.47,.49,.51,.46,.5,.48,.49,.44,
.47,.5,.52,.48,.5,.47,.49,.51,.545,.47];
var srm_c6 = [.57,.55,.53,.5,.46,.47,.49,.48,.5,.49,
.51,.5,.49,.52,.5,.56,.49,.47,.5,.49,
.5,.48,.51,.49,.5,.47,.49,.51,.5,.48,
.52,.5,.48,.49,.51,.47,.5,.49,.48,.5,
.49,.51,.48,.5,.47,.49,.51,.48,.5,.49,
.48,.5,.49,.51,.48,.5,.52,.49,.51,.5,
.53,.555,.5,.48,.5,.49,.51,.48,.5,.49,
.51,.48,.5,.49,.51,.47,.49,.5,.48,.5,
.49,.51,.48,.47,.5,.49,.51,.48,.5,.52,
.5,.49,.51,.48,.5,.49,.51,.53,.5,.525];
var srm_c7 = [.585,.58,.53,.49,.47,.45,.48,.47,.5,.49,
.48,.47,.5,.49,.48,.45,.47,.5,.49,.48,
.5,.51,.49,.47,.5,.49,.48,.51,.52,.5,
.49,.51,.53,.5,.54,.49,.47,.5,.49,.51,
.48,.49,.5,.47,.53,.5,.48,.51,.49,.5,
.48,.5,.49,.51,.48,.5,.47,.49,.42,.48,
.5,.49,.51,.48,.5,.49,.47,.51,.5,.52,
.56,.5,.48,.5,.49,.51,.47,.49,.5,.48,
.51,.49,.5,.48,.47,.49,.51,.48,.46,.44,
.47,.5,.49,.48,.51,.555,.5,.48,.49,.48];
var srm_c8 = [.56,.54,.52,.5,.49,.48,.49,.47,.45,.44,
.49,.572,.5,.48,.47,.51,.5,.49,.48,.5,
.49,.47,.45,.44,.5,.51,.48,.49,.5,.52,
.49,.48,.5,.47,.49,.51,.5,.48,.49,.5,
.48,.5,.49,.47,.5,.48,.51,.49,.47,.43,
.47,.49,.51,.48,.5,.52,.49,.47,.5,.49,
.51,.49,.48,.5,.52,.49,.47,.5,.49,.51,
.48,.5,.49,.51,.48,.5,.47,.49,.5,.48,
.5,.49,.51,.48,.5,.47,.49,.48,.5,.52,
.49,.51,.53,.54,.5,.48,.49,.415,.47,.5];

// ---------- logLik ----------
var ll_ticks = [7000, 7200];
var ll_c1 = [7250,7200,7130,7100,7160,7210,7280,7270,7010,7120,
7180,7260,7280,7150,6950,7110,7180,7120,7100,7090,
7080,7070,7060,7110,7130,7100,7120,7180,7150,7110,
7090,7140,7180,7150,7100,7120,7070,7060,7100,7050,
7030,7060,7090,7150,7210,7240,7270,7300,7220,7160,
7130,7210,7290,7300,7230,7200,7160,7260,7300,7270,
7220,7170,7250,7200,7120,7100,7080,7150,7180,7230,
7110,7050,7000,7090,7150,7190,7280,7210,7150,7080,
7060,7100,7140,7120,7080,7020,7050,7090,7140,7160,
7100,6990,7060,7120,7190,7230,7270,7300,7319,7220];
var ll_c2 = [7310,7190,7230,7240,7230,7180,7150,7110,7120,7130,
7150,7200,7140,7130,7110,7140,7150,7100,7120,7150,
7130,7100,7140,7160,7150,7120,7100,7130,7140,7170,
7120,7090,7150,7110,7080,7100,7130,7060,7050,7080,
7060,7030,7050,7000,7070,7110,7080,7120,7160,7210,
7180,7130,7100,7140,7180,7200,7230,7260,7280,7240,
7260,7300,7324,7270,7230,7180,7140,7170,7220,7260,
7240,7200,7180,7150,7120,7160,7200,7240,7190,7150,
7120,7060,7090,7040,7050,6980,7000,7050,7090,7060,
7070,7050,7080,7100,7150,7200,7230,7180,7250,7329];
var ll_c3 = [7300,7070,7120,7190,7110,7090,7130,7100,7150,7090,
7120,7100,7140,7090,7110,7130,7100,7160,7190,7140,
7120,7140,7110,7150,7100,7130,7110,7140,7190,7100,
7130,6961,7100,7140,7080,7120,7150,7160,7190,7140,
7210,7270,7250,7319,7280,7260,7200,7170,7230,7140,
7170,7240,7180,6885,7100,7160,7230,7280,7200,7150,
7120,7170,7140,7100,7180,7230,7170,7120,7090,7110,
7140,7180,7120,7100,7160,7130,7090,7120,7160,7100,
7120,7200,7240,7180,7140,7100,7200,7250,7210,7260,
7300,7310,7240,7180,7140,7200,7270,7230,7150,7100];
var ll_c4 = [7250,7200,7160,7110,7090,7130,7100,7080,7140,7120,
7100,7130,7040,7120,7080,7150,7110,7230,7180,7140,
7200,7130,7090,7110,7130,7150,7100,7160,7120,6888,
7040,7080,7130,7160,7100,7050,7090,7120,7140,7030,
7020,7080,7110,7060,7090,7130,7100,7070,7120,7150,
7100,7080,7130,7060,7110,7150,7100,7080,7120,7090,
7110,7070,7100,7140,7090,7120,7060,7100,7150,7110,
7080,7040,7110,7000,7060,7130,7090,7110,7140,7080,
7060,7100,7150,7080,7060,7120,7090,7130,7060,7100,
7140,7080,7060,7110,7090,7150,7120,7080,7020,7140];
var ll_c5 = [7050,7140,7130,7120,7140,7100,7130,7160,7120,7150,
7100,7130,6955,7180,7150,7130,7160,7120,7140,7110,
7130,7150,7120,7100,7140,7160,7130,7110,7150,7130,
7100,7140,7040,7120,7060,7100,7140,7090,7060,7110,
6871,7120,7080,7140,7100,7060,7110,7090,7130,7070,
7100,7140,7110,7080,7130,7100,7150,7090,7120,7080,
6885,7100,7130,7090,7140,7110,7080,7130,7150,7100,
7150,7120,7090,7140,7110,7160,7130,7120,7150,7110,
7140,7180,7130,7100,7140,7120,7090,7150,7130,7100,
7120,7140,7090,7110,7150,7130,7100,7120,7160,7100];
var ll_c6 = [7210,7190,7260,7210,7160,7300,7250,7200,7140,7170,
7230,7280,7200,7324,7250,7200,7150,7180,7240,7270,
7310,7290,7260,7200,7180,7140,7110,7150,7180,7170,
7130,7200,7250,7290,7230,7160,7120,7100,7130,7120,
7150,7120,7100,7130,7110,7150,7180,7130,7100,7120,
7140,7110,7090,7130,7160,7120,7100,7140,7180,7120,
7150,7200,7240,7270,7220,7180,7150,7200,7250,7260,
7230,7260,7290,7240,7200,7170,7130,7210,7280,7290,
7250,7200,7230,7180,7240,7300,7250,7200,7160,7130,
7170,7230,7280,7250,7210,7170,7240,7290,7230,7160];
var ll_c7 = [7190,7280,7220,7180,7160,7140,7230,7250,7200,7280,
7260,7320,7330,7280,7250,7200,7210,7150,7180,7230,
7270,7250,7290,7250,7220,7260,7230,7280,7333,7290,
7260,7240,7230,7280,7250,7230,7240,7200,7130,7180,
7160,7120,7100,7140,7120,7090,7150,7130,7100,7140,
7120,7080,7100,7140,7110,7090,7150,7120,7100,7130,
7150,7200,7230,7300,7280,7240,7210,7180,7160,7140,
7180,7230,7260,7280,7240,7220,7160,7130,7110,7170,
6947,7200,7320,7260,7230,7190,7140,7100,7150,7120,
7100,7140,7110,7080,7060,7100,7120,7090,7060,7040];
var ll_c8 = [7060,7180,7150,7100,7005,7150,7120,7160,7200,7110,
7050,7140,7170,7100,7150,7120,7090,7160,7110,7080,
7140,7100,7150,7120,7170,7210,7120,7100,7150,7170,
7120,7090,7150,7130,7060,7120,7140,7080,7110,7060,
7020,7050,7100,7060,7120,7080,7140,7100,7060,7090,
7120,7080,7140,7100,7060,7110,7080,7130,7100,7070,
7130,7090,7040,7120,6894,7100,7140,7080,7110,7060,
7120,7090,7130,7060,7100,7080,7140,7110,7070,7120,
7090,7130,7060,7100,7120,7080,7040,7100,7130,7090,
7110,7080,7120,7060,7100,7080,7090,7110,7140,7170];

// ---------- layout ----------
var colLeft = [76.7, 488.3, 897.7];
var rowTop = [41, 231.7, 422];
var plotW = 342.6, plotH = 121.2;
var FONT = 'DejaVu Sans';

var panels = [
  { title: 'mu0', col: 0, row: 0, chains: [mu0_c1, mu0_c2, mu0_c3, mu0_c4, mu0_c5, mu0_c6, mu0_c7, mu0_c8],
    yMin: 0.000905, yMax: 0.00438, ticks: mu0_ticks, digits: 3, nameGap: 51 },
  { title: 'mu_h', col: 1, row: 0, chains: [muh_c1, muh_c2, muh_c3, muh_c4, muh_c5, muh_c6, muh_c7, muh_c8],
    yMin: -10.99, yMax: -7.853, ticks: muh_ticks, digits: 0, nameGap: 42 },
  { title: 'phi', col: 2, row: 0, chains: [phi_c1, phi_c2, phi_c3, phi_c4, phi_c5, phi_c6, phi_c7, phi_c8],
    yMin: 0.7379, yMax: 1.0037, ticks: phi_ticks, digits: 1, nameGap: 35 },
  { title: 'sigma_h', col: 0, row: 1, chains: [sigh_c1, sigh_c2, sigh_c3, sigh_c4, sigh_c5, sigh_c6, sigh_c7, sigh_c8],
    yMin: 0.40815, yMax: 0.50364, ticks: sigh_ticks, digits: 3, nameGap: 51 },
  { title: 'range_bias_mean', col: 1, row: 1, chains: [rbm_c1, rbm_c2, rbm_c3, rbm_c4, rbm_c5, rbm_c6, rbm_c7, rbm_c8],
    yMin: -0.639, yMax: 0.064, ticks: rbm_ticks, digits: 1, nameGap: 45 },
  { title: 'sigma_range_meas', col: 2, row: 1, chains: [srm_c1, srm_c2, srm_c3, srm_c4, srm_c5, srm_c6, srm_c7, srm_c8],
    yMin: 0.408, yMax: 0.5935, ticks: srm_ticks, digits: 2, nameGap: 45 },
  { title: 'logLik', col: 0, row: 2, chains: [ll_c1, ll_c2, ll_c3, ll_c4, ll_c5, ll_c6, ll_c7, ll_c8],
    yMin: 6846.5, yMax: 7355, ticks: ll_ticks, digits: 0, nameGap: 47 }
];

function fmt(v, d) {
  var s = Math.abs(v).toFixed(d);
  return (v < 0 ? '\u2212' : '') + s;
}

var grids = [], xAxes = [], yAxes = [], series = [];
var graphics = [{
  type: 'text', x: 624, y: 12.5,
  style: { text: 'Global Search Convergence Diagnostics', font: '15.4px "' + FONT + '"', fill: '#000',
           align: 'center', verticalAlign: 'middle', textAlign: 'center', textVerticalAlign: 'middle' }
}];

panels.forEach(function (p, k) {
  var left = colLeft[p.col], top = rowTop[p.row];
  grids.push({ left: left, top: top, width: plotW, height: plotH, show: true,
               borderColor: '#000', borderWidth: 1, backgroundColor: 'transparent', containLabel: false });
  var tickStyle = { show: true, inside: false, length: 4.5, lineStyle: { color: '#000', width: 1 } };
  var labelStyle = { color: '#000', fontFamily: FONT, fontSize: 12.8 };
  xAxes.push({
    gridIndex: k, type: 'value', min: -3.95, max: 104.95, position: 'bottom',
    axisLine: { show: false, onZero: false }, splitLine: { show: false },
    axisTick: Object.assign({ customValues: xTicks }, tickStyle),
    axisLabel: Object.assign({ customValues: xTicks, margin: 7, formatter: function (v) { return String(v); } }, labelStyle),
    name: 'iteration', nameLocation: 'middle', nameGap: 26,
    nameTextStyle: labelStyle
  });
  yAxes.push({
    gridIndex: k, type: 'value', min: p.yMin, max: p.yMax, position: 'left',
    axisLine: { show: false, onZero: false }, splitLine: { show: false },
    axisTick: Object.assign({ customValues: p.ticks }, tickStyle),
    axisLabel: Object.assign({ customValues: p.ticks, margin: 9, formatter: function (v) { return fmt(v, p.digits); } }, labelStyle),
    name: 'value', nameLocation: 'middle', nameGap: p.nameGap,
    nameTextStyle: labelStyle
  });
  graphics.push({
    type: 'text', x: left + plotW / 2, y: top - 12.7,
    style: { text: p.title, font: '15.4px "' + FONT + '"', fill: '#000',
             align: 'center', verticalAlign: 'middle', textAlign: 'center', textVerticalAlign: 'middle' }
  });
  p.chains.forEach(function (chain, c) {
    series.push({
      type: 'line', xAxisIndex: k, yAxisIndex: k,
      data: chain.map(function (v, i) { return [iterations[i], v]; }),
      symbol: 'none', showSymbol: false, silent: true, animation: false,
      lineStyle: { color: chainColors[c], width: 1.25, opacity: 0.8 }
    });
  });
});

var chart = echarts.init(document.getElementById('chart'), null, { renderer: 'canvas' });
chart.setOption({
  animation: false,
  backgroundColor: '#fff',
  grid: grids,
  xAxis: xAxes,
  yAxis: yAxes,
  series: series,
  graphic: graphics
});
</script>
</body>
</html>
